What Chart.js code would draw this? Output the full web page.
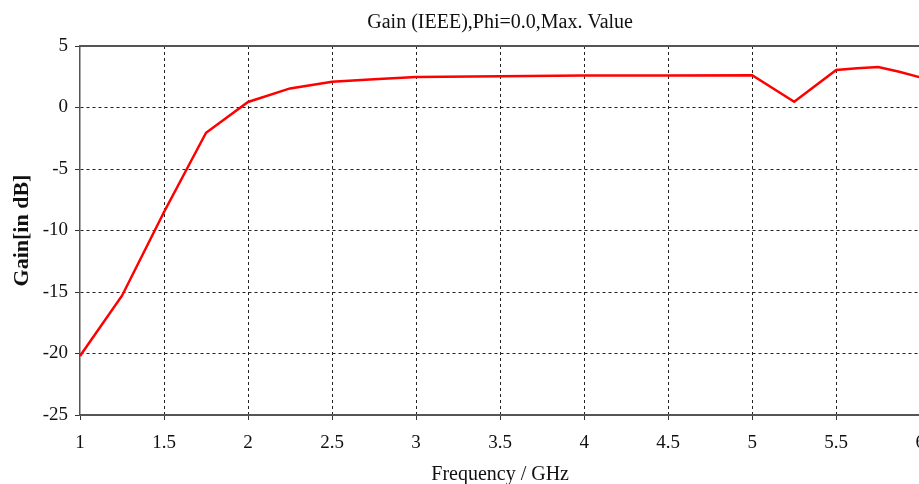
<!DOCTYPE html>
<html>
<head>
<meta charset="utf-8">
<script src="https://cdn.jsdelivr.net/npm/chart.js@4"></script>
<style>
  html, body { margin: 0; padding: 0; background: #fff; overflow: hidden; }
  canvas { display: block; }
</style>
</head>
<body>
<canvas id="gainChart" width="937" height="484"></canvas>
<script>
// Frequency sweep (GHz) and realized gain (dB), Phi = 0, max value
const frequencies = [1, 1.25, 1.5, 1.75, 2, 2.25, 2.5, 2.75, 3, 3.5, 4, 4.5, 5, 5.25, 5.5, 5.625, 5.75, 5.875, 6];
const gains       = [-20.2, -15.3, -8.5, -2.05, 0.45, 1.55, 2.1, 2.3, 2.47, 2.55, 2.6, 2.6, 2.62, 0.46, 3.05, 3.2, 3.3, 2.9, 2.45];

const xTickValues = [1, 1.5, 2, 2.5, 3, 3.5, 4, 4.5, 5, 5.5, 6];
const yTickValues = [-25, -20, -15, -10, -5, 0, 5];

const titleText  = 'Gain (IEEE),Phi=0.0,Max. Value';
const xAxisLabel = 'Frequency / GHz';
const yAxisLabel = 'Gain[in dB]';

const serif = '"Liberation Serif", "Times New Roman", serif';
const textColor = '#111';

// solid frame line along the top of the plot area
const topFrame = {
  id: 'topFrame',
  afterDraw(chart) {
    const { ctx, chartArea } = chart;
    ctx.save();
    ctx.strokeStyle = '#555';
    ctx.lineWidth = 2;
    ctx.beginPath();
    ctx.moveTo(chartArea.left, chartArea.top);
    ctx.lineTo(chartArea.right, chartArea.top);
    ctx.stroke();
    ctx.restore();
  }
};

new Chart(document.getElementById('gainChart'), {
  type: 'line',
  data: {
    datasets: [{
      data: frequencies.map((f, i) => ({ x: f, y: gains[i] })),
      borderColor: '#ff0000',
      borderWidth: 2.5,
      pointRadius: 0,
      tension: 0,
      fill: false
    }]
  },
  options: {
    responsive: false,
    animation: false,
    devicePixelRatio: 1,
    layout: { padding: { left: 0, right: 10, top: 0, bottom: 0 } },
    plugins: {
      legend: { display: false },
      tooltip: { enabled: false },
      title: {
        display: true,
        text: titleText,
        fullSize: false,
        color: textColor,
        font: { family: serif, size: 20, weight: 'normal' },
        padding: { top: 11, bottom: 11 }
      }
    },
    scales: {
      x: {
        type: 'linear',
        min: 1,
        max: 6,
        afterBuildTicks: s => { s.ticks = xTickValues.map(v => ({ value: v })); },
        afterFit: s => { s.height = 69; },
        ticks: {
          color: textColor,
          font: { family: serif, size: 19 },
          padding: 12,
          maxRotation: 0,
          autoSkip: false,
          callback: v => String(v)
        },
        grid: {
          color: ctx => (ctx.tick && ctx.tick.value === 1) ? 'rgba(0,0,0,0)' : '#222',
          lineWidth: 1,
          drawTicks: true,
          tickLength: 5,
          tickColor: '#333',
          tickWidth: 1
        },
        border: { display: true, color: '#555', width: 2, dash: [3, 3] },
        title: {
          display: true,
          text: xAxisLabel,
          color: textColor,
          font: { family: serif, size: 20, weight: 'normal' },
          padding: { top: 0, bottom: -3 }
        }
      },
      y: {
        type: 'linear',
        min: -25,
        max: 5,
        afterBuildTicks: s => { s.ticks = yTickValues.map(v => ({ value: v })); },
        afterFit: s => { s.width = 80; },
        ticks: {
          color: textColor,
          font: { family: serif, size: 19 },
          padding: 7,
          autoSkip: false,
          callback: v => String(v)
        },
        grid: {
          color: ctx => (ctx.tick && (ctx.tick.value === 5 || ctx.tick.value === -25)) ? 'rgba(0,0,0,0)' : '#222',
          lineWidth: 1,
          drawTicks: true,
          tickLength: 5,
          tickColor: '#333',
          tickWidth: 1
        },
        border: { display: true, color: '#555', width: 1.5, dash: [3, 3] },
        title: {
          display: true,
          text: yAxisLabel,
          color: textColor,
          font: { family: serif, size: 22, weight: 'bold' },
          padding: { top: 9, bottom: 0 }
        }
      }
    }
  },
  plugins: [topFrame]
});
</script>
</body>
</html>
